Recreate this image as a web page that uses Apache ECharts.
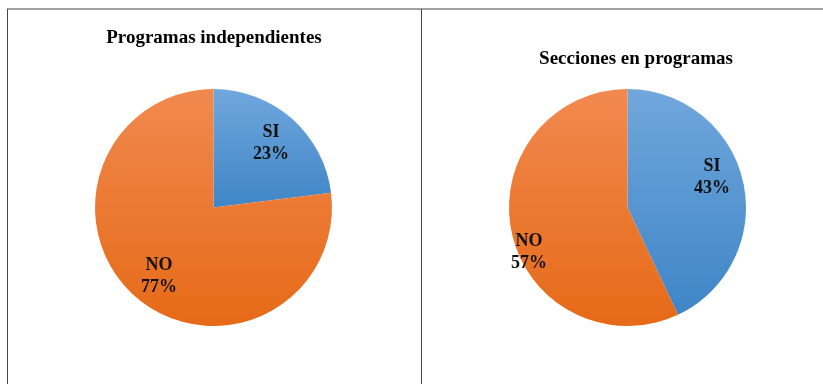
<!DOCTYPE html>
<html><head><meta charset="utf-8">
<script src="https://cdn.jsdelivr.net/npm/echarts@6/dist/echarts.min.js"></script>
<style>html,body{margin:0;padding:0;background:#fff}#c{width:823px;height:384px}</style>
</head><body><div id="c"></div>
<script>
const categories = ['SI', 'NO'];
const titles = ['Programas independientes', 'Secciones en programas'];
const valuesIndependientes = [23, 77];
const valuesSecciones = [43, 57];

const FONT = '"Liberation Serif", "DejaVu Serif", serif';
const grad = (a, b) => ({type:'linear', x:0, y:0, x2:0, y2:1, colorStops:[{offset:0,color:a},{offset:1,color:b}]});
const sliceColors = [grad('#70a7dd', '#3f85c6'), grad('#f1894f', '#e66a17')];
const labelOffsetsLeft = [[-2, 3], [5, 1]];
const labelOffsetsRight = [[-14, -8], [0, 23]];

function mk(vals) {
  return categories.map((n, i) => ({name: n, value: vals[i], itemStyle: {color: sliceColors[i]}}));
}
function labelData(vals, offs) {
  return categories.map((n, i) => ({name: n, value: vals[i], label: {offset: offs[i]}}));
}

const chart = echarts.init(document.getElementById('c'), null, {renderer: 'canvas'});
const labelStyle = {
  show: true, position: 'inside', formatter: p => p.name + '\n' + Math.round(p.percent) + '%',
  fontFamily: FONT, fontWeight: 'bold', fontSize: 18, color: '#111', lineHeight: 22
};
const titleStyle = {fontFamily: FONT, fontWeight: 'bold', fontSize: 19, color: '#000'};
chart.setOption({
  animation: false,
  title: [
    {text: titles[0], left: 214, top: 29, textAlign: 'center', padding: 0, textStyle: titleStyle},
    {text: titles[1], left: 636, top: 50, textAlign: 'center', padding: 0, textStyle: titleStyle}
  ],
  graphic: [
    {type: 'line', shape: {x1: 7, y1: 9, x2: 823, y2: 9}, style: {stroke: '#444', lineWidth: 1}},
    {type: 'line', shape: {x1: 7.5, y1: 9, x2: 7.5, y2: 384}, style: {stroke: '#444', lineWidth: 1}},
    {type: 'line', shape: {x1: 421.5, y1: 9, x2: 421.5, y2: 384}, style: {stroke: '#444', lineWidth: 1}}
  ],
  series: [
    {type: 'pie', center: [213.5, 207.5], radius: 118.5, startAngle: 90, clockwise: true,
     data: mk(valuesIndependientes), label: {show: false}, labelLine: {show: false}, silent: true},
    {type: 'pie', center: [213.5, 207.5], radius: 174, startAngle: 90, clockwise: true, z: 5,
     data: labelData(valuesIndependientes, labelOffsetsLeft), itemStyle: {color: 'rgba(0,0,0,0)'}, label: labelStyle, labelLine: {show: false}, silent: true},
    {type: 'pie', center: [627.5, 207.5], radius: 118.5, startAngle: 90, clockwise: true,
     data: mk(valuesSecciones), label: {show: false}, labelLine: {show: false}, silent: true},
    {type: 'pie', center: [627.5, 207.5], radius: 196, startAngle: 90, clockwise: true, z: 5,
     data: labelData(valuesSecciones, labelOffsetsRight), itemStyle: {color: 'rgba(0,0,0,0)'}, label: labelStyle, labelLine: {show: false}, silent: true}
  ]
});
</script></body></html>
